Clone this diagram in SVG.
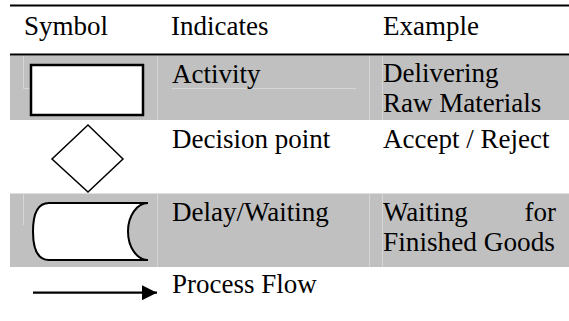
<svg xmlns="http://www.w3.org/2000/svg" width="569" height="321" viewBox="0 0 569 321">
  <style>
    .band { fill: #c0c0c0; }
    .rule { stroke: #000; stroke-width: 2; }
    .faint { stroke: #d6d6d6; stroke-width: 1; fill: none; }
    .sym { fill: #fff; stroke: #000; }
  </style>
  <defs>
    <marker id="arrow" viewBox="0 0 15 15" refX="15" refY="7.5" markerUnits="userSpaceOnUse" markerWidth="15" markerHeight="15" orient="auto">
      <path d="M0,0 L15,7.5 L0,15 Z" fill="#000"/>
    </marker>
  </defs>
  <rect width="569" height="321" fill="#fff"/>

  <line class="rule" x1="10" y1="5.5" x2="569" y2="5.5"/>
  <rect class="band" x="10" y="55.5" width="559" height="64.5"/>
  <rect class="band" x="10" y="193.5" width="559" height="73.5"/>
  <line class="rule" x1="10" y1="54.5" x2="569" y2="54.5"/>
  <path class="faint" d="M23.5,56 V88.5 H30 M157.5,56 V120 M172,88.5 H356 M369.5,56 V120 M382.5,56 V120 M23.5,194 V225 M157.5,194 V267 M369.5,194 V267 M382.5,194 V267"/>

  <g font-family="'Liberation Serif', 'Times New Roman', serif" font-size="27" fill="#000">
    <text x="24" y="34.5">Symbol</text>
    <text x="171" y="34.5">Indicates</text>
    <text x="383" y="34.5">Example</text>

    <g id="activity">
      <rect class="sym" x="31" y="65" width="112" height="50" stroke-width="2.5"/>
      <text x="172" y="82.5">Activity</text>
      <text x="383" y="82">Delivering</text>
      <text x="383" y="112">Raw Materials</text>
    </g>

    <g id="decision">
      <path class="sym" d="M88,125 L123,159 L88,192 L52,159 Z" stroke-width="1.5"/>
      <text x="172" y="148">Decision point</text>
      <text x="383" y="148">Accept / Reject</text>
    </g>

    <g id="delay">
      <path class="sym" stroke-width="2" d="M148,203 H49 C38,203 33,213 33,231.5 C33,250 38,260 49,260 H148 A20 28.5 0 0 1 148,203 Z"/>
      <text x="172" y="221">Delay/Waiting</text>
      <text x="383" y="221">Waiting</text>
      <text x="556" y="221" text-anchor="end">for</text>
      <text x="383" y="251" textLength="172" lengthAdjust="spacingAndGlyphs">Finished Goods</text>
    </g>

    <g id="connectors">
      <line x1="33" y1="292.7" x2="157" y2="292.7" stroke="#000" stroke-width="2.2" marker-end="url(#arrow)"/>
    </g>
    <g id="process-flow">
      <text x="172" y="293">Process Flow</text>
    </g>
  </g>
</svg>
